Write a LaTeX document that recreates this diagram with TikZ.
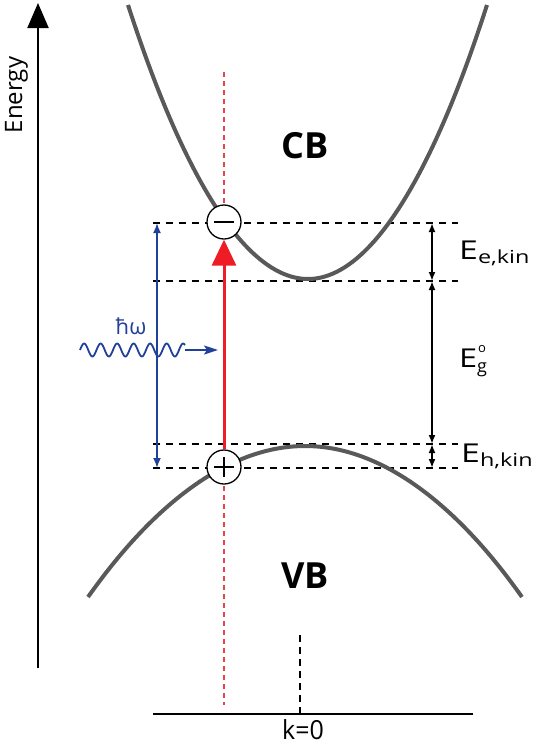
\documentclass[tikz,border=0pt]{standalone}
\usepackage{fontspec}
\setmainfont{Open Sans}
\usetikzlibrary{arrows.meta}
\definecolor{bandgray}{HTML}{595959}
\definecolor{photred}{HTML}{EE1C25}
\definecolor{photblue}{HTML}{21409A}
\definecolor{dotred}{HTML}{E8434B}
\tikzset{
  band/.style={draw=bandgray, line width=4pt},
  level/.style={draw=black, line width=2.3pt, dash pattern=on 7pt off 6pt},
  carrier/.style={circle, draw=black, fill=white, line width=1.3pt, minimum size=34pt, inner sep=0pt},
  dimarrow/.style={draw=black, line width=1.8pt, {Latex[length=9pt,width=7pt]}-{Latex[length=9pt,width=7pt]}},
  lbl/.style={inner sep=0pt, anchor=base west},
}
\newcommand{\kinlabel}[1]{\scalebox{1.3}[1]{{\fontsize{26}{26}\selectfont E}\raisebox{-4pt}{\fontsize{18}{18}\selectfont #1}}}
\begin{document}
\begin{tikzpicture}[x=1pt,y=-1pt]
\useasboundingbox (0,0) rectangle (534,745);
% energy axis
\coordinate (ax0) at (38,668);
\coordinate (ax1) at (38,3);
\draw[line width=2pt, -{Triangle[length=25pt,width=21pt]}] (ax0) -- (ax1);
\node[rotate=90, anchor=base, inner sep=0pt, font=\fontsize{24}{24}\selectfont] (energy) at (22,95) {Energy};
% red dotted vertical
\coordinate (rd0) at (224,72);
\coordinate (rd1) at (224,705);
\draw[dotred, line width=1.8pt, dash pattern=on 5pt off 4pt] (rd0) -- (rd1);
% k axis
\coordinate (kl) at (153,714);
\coordinate (kr) at (473,714);
\draw[line width=2pt] (kl) -- (kr);
\coordinate (k0top) at (300,635);
\coordinate (k0) at (300,714);
\draw[line width=2pt, dash pattern=on 7pt off 5pt] (k0top) -- (k0);
\node[anchor=base, inner sep=0pt] (klabel) at (303,739) {\scalebox{1}[1.05]{\fontsize{25}{25}\selectfont k=0}};
% level lines
\foreach \yy/\nm in {223/la, 281/lb, 444/lc, 468/ld}{
  \coordinate (\nm l) at (153,\yy);
  \coordinate (\nm r) at (458,\yy);
  \draw[level] (\nm l) -- (\nm r);
}
% bands
\draw[band] (128,5) parabola bend (308,279) (487,5);
\draw[band] (88,597) parabola bend (305,446) (522,597);
\node[font=\fontsize{36}{36}\selectfont\bfseries] (cb) at (305,146) {CB};
\node[font=\fontsize{36}{36}\selectfont\bfseries] (vb) at (305,576) {VB};
% blue double arrow
\coordinate (ba0) at (157,223);
\coordinate (ba1) at (157,468);
\draw[photblue, line width=1.8pt, {Latex[length=10pt,width=8pt]}-{Latex[length=10pt,width=8pt]}] (ba0) -- (ba1);
% photon
\coordinate (wend) at (185,350);
\coordinate (wtip) at (218,350);
\draw[photblue, line width=1.8pt] plot[domain=80:185, samples=120] (\x,{350-6.5*sin((\x-80)/16.5*360)});
\draw[photblue, line width=1.8pt, -{Stealth[length=14pt,width=9pt,inset=3pt]}] (wend) -- (wtip);
\node[photblue, font=\fontsize{22}{22}\selectfont] (hw) at (131,326) {ħω};
% carriers
\node[carrier] (el) at (224,222) {};
\node[carrier] (ho) at (224,467) {};
\draw[line width=1.3pt] ([xshift=-10pt]el.center) -- ([xshift=10pt]el.center);
\draw[line width=1.3pt] ([xshift=-10pt]ho.center) -- ([xshift=10pt]ho.center);
\draw[line width=1.3pt] ([yshift=-10pt]ho.center) -- ([yshift=10pt]ho.center);
% red excitation arrow
\draw[photred, line width=3pt, -{Triangle[length=26pt,width=24pt]}] (ho) -- (el);
% right dimension arrows
\coordinate (d0) at (432,223);
\coordinate (d1) at (432,281);
\coordinate (d2) at (432,444);
\coordinate (d3) at (432,468);
\draw[dimarrow] (d0) -- (d1);
\draw[dimarrow] (d1) -- (d2);
\draw[dimarrow] (d2) -- (d3);
% labels
\node[lbl] (ee) at (459,259) {\kinlabel{e,kin}};
\node[lbl] (eg) at (459,367) {\scalebox{1.25}[1]{\fontsize{26}{26}\selectfont E}};
\node[lbl, font=\fontsize{18}{18}\selectfont] (egs) at (477,372) {g};
\node[lbl, font=\fontsize{13}{13}\selectfont] (egp) at (478,352) {o};
\node[lbl] (eh) at (461,462) {\kinlabel{h,kin}};
\end{tikzpicture}
\end{document}
